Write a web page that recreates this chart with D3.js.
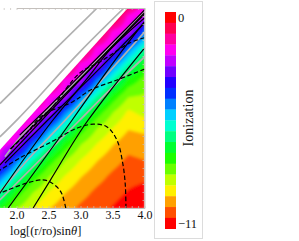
<!DOCTYPE html>
<html>
<head>
<meta charset="utf-8">
<script src="https://d3js.org/d3.v7.min.js"></script>
<style>
    html,body { margin:0; background:white; }
    svg { display:block; }
    text { font-family:'Liberation Serif', serif; fill:#111; }
    .frame path, .frame line { stroke:#c4c0bc; }
    .frame text { font-size:12px; }
</style>
</head>
<body>
<svg id="chart" width="299" height="241"></svg>
<script>

//DATA
// grid of the ionization field, rows from top of plot to bottom
const gridX = [1.5,1.75,2,2.25,2.5,2.75,3,3.25,3.5,3.75,4]
const gridY = [3.25,3,2.75,2.5,2.25,2,1.75,1.5,1.25,1,0.75,0.5,0.25,0]
const ionGrid = [
 [0,0,0,0,0,0,0,0,0,0,-1.8],
 [0,0,0,0,0,0,0,0,0,-1.8,-2.3],
 [0,0,0,0,0,0,0,0,-1.8,-2.3,-4.5],
 [0,0,0,0,0,0,0,-1.8,-2.3,-4.5,-6.0],
 [0,0,0,0,0,0,-1.8,-2.3,-4.5,-6.0,-7.2],
 [0,0,0,0,0,-1.8,-2.3,-4.5,-6.0,-7.3,-7.9],
 [0,0,0,0,-1.8,-2.3,-4.5,-6.0,-7.3,-8.2,-8.3],
 [0,0,0,-1.8,-2.3,-4.5,-6.0,-7.3,-8.2,-8.9,-8.6],
 [0,0,-1.8,-2.3,-4.5,-6.0,-7.3,-8.2,-8.8,-9.3,-9.2],
 [0,-1.9,-2.3,-4.5,-6.0,-7.3,-8.2,-8.8,-9.3,-9.7,-9.6],
 [-1.9,-2.4,-4.5,-6.0,-7.3,-8.2,-8.8,-9.3,-9.7,-10.0,-9.9],
 [-2.4,-4.5,-6.0,-7.3,-8.2,-8.8,-9.3,-9.7,-10.0,-10.2,-10.3],
 [-4.5,-6.0,-7.3,-8.2,-8.8,-9.3,-9.7,-10.0,-10.2,-10.5,-10.7],
 [-6.0,-7.3,-8.2,-8.8,-9.3,-9.7,-10.0,-10.2,-10.5,-10.8,-11]
]
// upper left edge of the filled wedge
const wedgeX = [1.725,3.74,4,4,1.725]
const wedgeY = [0.89,3.125,3.125,0,0]

const grayLines = [
 [[1.74,1.63],[3.26,3.125]],
 [[1.74,1.11],[2.02,1.39],[2.99,2.44],[3.68,3.125]],
 [[1.74,0.125],[2.99,1.375],[3.30,1.69],[4,2.36]],
 [[1.74,0.25],[2.32,0.91],[2.57,1.17],[4,2.75]],
 [[1.82,0.8],[2.13,1.19],[2.40,1.45],[4,3.06]]
]
const solidLines = [
 [[2.26,0],[2.52,0.42],[3.12,1.375],[3.34,1.67],[4,2.5]],
 [[1.87,0],[2.87,1.375],[3.15,1.77],[3.66,2.47],[4,2.91]],
 [[1.74,0.23],[2.57,1.375],[3.15,2.08],[3.46,2.47],[4,2.97]],
 [[1.74,0.67],[2.40,1.375],[2.99,2.0],[4,3.05]],
 [[1.82,0.70],[2.49,1.375],[3.15,2.03],[4,2.89]],
 [[2.05,1.14],[2.37,1.45],[3.15,2.23],[3.85,2.94],[4.03,3.125]],
 [[1.90,0.92],[2.68,1.70],[3.77,2.80],[4,3.03]]
]
const dashedLines = [
 [[2.77,0],[2.71,0.22],[2.65,0.31],[2.52,0.41],[2.41,0.44],[2.16,0.39],[1.74,0.23]],
 [[3.71,0],[3.70,0.36],[3.66,0.70],[3.57,1.06],[3.41,1.27],[3.20,1.31],[2.95,1.25],[2.52,1.02],[2.05,0.78],[1.74,0.59]],
 [[4,2.17],[3.57,2.0],[3.15,1.84],[2.88,1.66],[2.41,1.45],[2.13,1.14],[1.90,0.91]],
 [[4,2.66],[3.77,2.58],[3.30,2.28],[2.99,2.11],[2.52,1.53],[2.21,1.22]]
]

const xTicks = [2,2.5,3,3.5,4]
const barColors = ['#ff0000','#ff0050','#ff00a0','#ff00f0','#c000ff','#7000ff','#2000ff','#002fff','#0080ff','#00d0ff',
                   '#00ffd0','#00ff80','#00ff30','#1cff00','#6aff00','#c0ff00','#fff000','#ffa000','#ff5000','#ff0000']
const barTicks = [0,-11]

//SCALES
const svg = d3.select('#chart')
const x = d3.scaleLinear().domain([2,4]).range([16.5,144.5])
const y = d3.scaleLinear().domain([0,3.125]).range([208,8])
const band = d3.scaleBand().domain(d3.range(barColors.length)).range([12,228.7])
const level = d3.scaleLinear().domain([0,-11]).range([17.4,223])

//FIELD
const defs = svg.append('defs')
defs.append('clipPath').attr('id','wedge').append('path')
    .attr('d', d3.line()(wedgeX.map((d,i)=>[x(d),y(wedgeY[i])])) + 'Z')
defs.append('clipPath').attr('id','plot').append('rect')
    .attr('x',0).attr('y',y(3.125)).attr('width',x(4)).attr('height',y(0)-y(3.125))
defs.append('filter').attr('id','soft').append('feGaussianBlur').attr('stdDeviation',1.5)

const nx = gridX.length, ny = gridY.length
// d3.contours wants a grid 0..n, subsample so the bands come out smooth
const sub = 8
const w = (nx-1)*sub+1, h = (ny-1)*sub+1
const vals = new Array(w*h)
for(let j=0;j<h;j++){
    for(let i=0;i<w;i++){
        let a = Math.min(Math.floor(i/sub),nx-2), b = Math.min(Math.floor(j/sub),ny-2)
        let u = i/sub-a, v = j/sub-b
        vals[j*w+i] = ionGrid[b][a]*(1-u)*(1-v)+ionGrid[b][a+1]*u*(1-v)+ionGrid[b+1][a]*(1-u)*v+ionGrid[b+1][a+1]*u*v
    }
}
const step = 11/barColors.length
const thresholds = barColors.map((c,i)=>-11+step*i)
const gx = d3.scaleLinear().domain([0,w-1]).range([x(gridX[0]),x(gridX[nx-1])])
const gy = d3.scaleLinear().domain([0,h-1]).range([y(gridY[0]),y(gridY[ny-1])])
const cont = d3.contours().size([w,h]).thresholds(thresholds)(vals)
const path = d3.geoPath(d3.geoTransform({point(px,py){ this.stream.point(gx(px-0.5),gy(py-0.5)) }}))

svg.append('g').attr('clip-path','url(#wedge)')
  .append('g').attr('filter','url(#soft)')
  .selectAll('path').data(cont).join('path')
    .attr('d',path)
    .attr('fill',(d,i)=>barColors[barColors.length-1-i])

//LINES
const line = d3.line().x(d=>x(d[0])).y(d=>y(d[1])).curve(d3.curveMonotoneY)
const curve = d3.line().x(d=>x(d[0])).y(d=>y(d[1])).curve(d3.curveCatmullRom)
const lines = svg.append('g').attr('clip-path','url(#plot)').attr('fill','none')
lines.selectAll('.gray').data(grayLines).join('path').attr('class','gray')
    .attr('d',line).attr('stroke','#b0b0b0').attr('stroke-width',1.7)
lines.selectAll('.solid').data(solidLines).join('path').attr('class','solid')
    .attr('d',line).attr('stroke','#000').attr('stroke-width',1.2)
lines.selectAll('.dash').data(dashedLines).join('path').attr('class','dash')
    .attr('d',curve).attr('stroke','#000').attr('stroke-width',1.2).attr('stroke-dasharray','4.5,2.5')

//FRAME
const minor = d3.range(1.8,4.01,0.1).map(d=>+d.toFixed(1))
function frameAxis(axis,labels){
    let g = svg.append('g').attr('class','frame').call(axis)
    g.selectAll('.tick line').attr('stroke-width',0.7)
    if(!labels) g.selectAll('text').remove()
    return g
}
const fmt = d=>xTicks.includes(d)?d.toFixed(1):''
let bottom = frameAxis(d3.axisBottom(x).tickValues(minor).tickSize(-2).tickPadding(2).tickFormat(fmt).tickSizeOuter(0),true)
    .attr('transform','translate(0,'+y(0)+')')
frameAxis(d3.axisTop(x).tickValues(minor).tickSize(-2).tickFormat('').tickSizeOuter(0),false)
    .attr('transform','translate(0,'+y(3.125)+')')
frameAxis(d3.axisRight(y).tickValues(d3.range(0,3.13,0.125)).tickSize(-2).tickFormat('').tickSizeOuter(0),false)
    .attr('transform','translate('+x(4)+',0)')

const title = svg.append('text').attr('x',10).attr('y',235).attr('font-size',12.5)
title.append('tspan').text('log[(r/ro)sin')
title.append('tspan').attr('font-style','italic').text('θ')
title.append('tspan').text(']')

//LEGEND
svg.append('rect').attr('x',154.5).attr('y',1.5).attr('width',48).attr('height',237)
    .attr('fill','none').attr('stroke','#dcdcdc')
svg.append('g').selectAll('rect').data(barColors).join('rect')
    .attr('x',165).attr('y',(d,i)=>band(i)).attr('width',11).attr('height',band.bandwidth()+0.3)
    .attr('fill',d=>d)
const barAxis = svg.append('g').attr('transform','translate(176,0)')
    .call(d3.axisRight(level).tickValues(barTicks).tickSize(0).tickPadding(2))
barAxis.select('.domain').remove()
barAxis.selectAll('text').attr('font-size',12.5).attr('font-family',"'Liberation Serif', serif")
svg.append('text').attr('transform','translate(193,118) rotate(-90)')
    .attr('text-anchor','middle').attr('font-size',14).text('Ionization')

</script>
</body>
</html>
